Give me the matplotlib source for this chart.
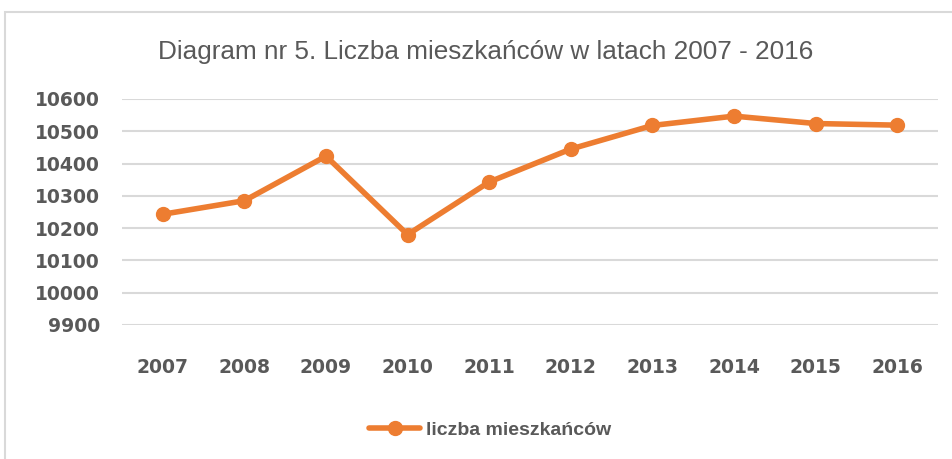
import matplotlib.pyplot as plt
from matplotlib.patches import Rectangle

# data
years = ['2007', '2008', '2009', '2010', '2011', '2012', '2013', '2014', '2015', '2016']
residents = [10243, 10285, 10423, 10180, 10343, 10445, 10518, 10547, 10524, 10519]
y_ticks = [9900, 10000, 10100, 10200, 10300, 10400, 10500, 10600]

title = 'Diagram nr 5. Liczba mieszkańców w latach 2007 - 2016'
series_name = 'liczba mieszkańców'

orange = '#ED7D31'
grid_col = '#D9D9D9'
text_col = '#595959'

plt.rcParams['font.family'] = ['Liberation Sans', 'DejaVu Sans']

fig = plt.figure(figsize=(9.53, 4.59), dpi=100)

# chart frame (Excel chart area border)
fig.patches.append(Rectangle((5 / 953, -0.1), 1.2, 1 - 12 / 459 + 0.1,
                             transform=fig.transFigure, fill=False,
                             edgecolor=grid_col, linewidth=1.5))

ax = fig.add_axes([122 / 953, 1 - 325 / 459, 816 / 953, 226 / 459])
x = list(range(len(years)))
ax.plot(x, residents, color=orange, linewidth=4, marker='o', markersize=10,
        label=series_name, solid_capstyle='round')

ax.set_xlim(-0.5, len(years) - 0.5)
ax.set_ylim(9900, 10600)
ax.set_yticks(y_ticks)
ax.set_xticks(x)
ax.set_xticklabels(years)
ax.grid(axis='y', color=grid_col, linewidth=1.5)
ax.set_axisbelow(True)
for s in ax.spines.values():
    s.set_visible(False)
ax.tick_params(length=0, colors=text_col)
for lbl in ax.get_xticklabels() + ax.get_yticklabels():
    lbl.set_fontweight('bold')
    lbl.set_fontfamily('DejaVu Sans')
    lbl.set_fontsize(13.5)
ax.tick_params(axis='y', pad=16)
ax.tick_params(axis='x', pad=24)

fig.text(486 / 953, 1 - 52 / 459, title, ha='center', va='center', fontsize=18.8, color=text_col)

fig.legend(loc='center', bbox_to_anchor=(490 / 953, 1 - 430 / 459), frameon=False,
           prop={'size': 14, 'weight': 'bold'}, labelcolor=text_col,
           handlelength=2.6, handletextpad=0.3)

fig.savefig('out.png', dpi=100)
